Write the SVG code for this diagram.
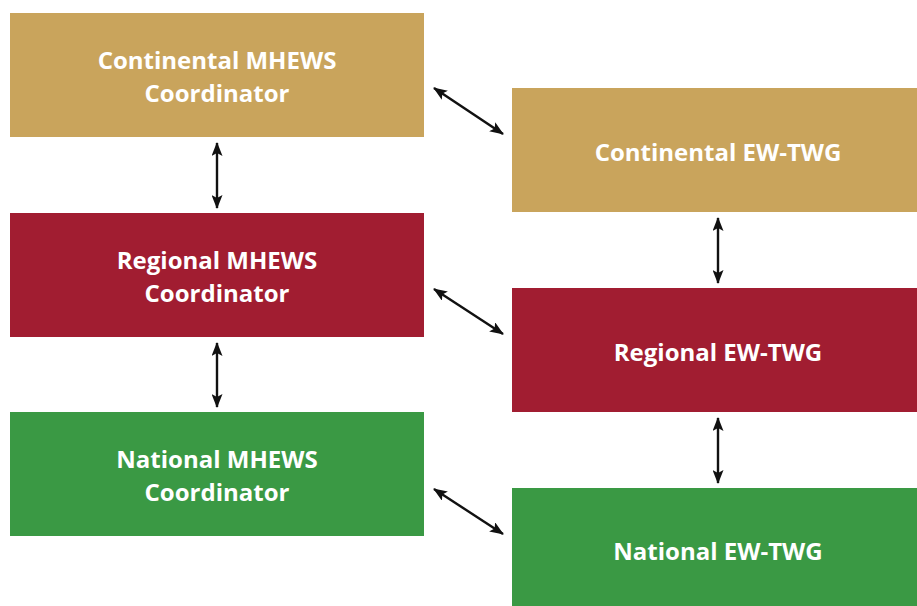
<svg xmlns="http://www.w3.org/2000/svg" width="917" height="606" viewBox="0 0 917 606">
  <style>
    .gold { fill: #C9A45C; }
    .red { fill: #A11D31; }
    .green { fill: #3A9944; }
    .lbl { fill: #FFFFFF; font-family: "Open Sans", "Liberation Sans", sans-serif; font-weight: bold; font-size: 24px; text-anchor: middle; }
    .link { stroke: #111111; stroke-width: 2.4; fill: none; marker-start: url(#head); marker-end: url(#head); }
  </style>
  <defs>
    <marker id="head" viewBox="0 0 14 11" refX="13" refY="5.5" markerWidth="14" markerHeight="11" orient="auto-start-reverse" markerUnits="userSpaceOnUse">
      <path d="M0,0 L14,5.5 L0,11 L3,5.5 Z" fill="#111111"/>
    </marker>
  </defs>
  <rect width="917" height="606" fill="#FFFFFF"/>

  <g id="continental-coordinator">
    <rect class="gold" x="10" y="13" width="414" height="124"/>
    <text class="lbl" x="217" y="69">Continental MHEWS</text>
    <text class="lbl" x="217" y="102">Coordinator</text>
  </g>
  <g id="regional-coordinator">
    <rect class="red" x="10" y="213" width="414" height="124"/>
    <text class="lbl" x="217" y="269">Regional MHEWS</text>
    <text class="lbl" x="217" y="302">Coordinator</text>
  </g>
  <g id="national-coordinator">
    <rect class="green" x="10" y="412" width="414" height="124"/>
    <text class="lbl" x="217" y="468">National MHEWS</text>
    <text class="lbl" x="217" y="501">Coordinator</text>
  </g>

  <g id="continental-twg">
    <rect class="gold" x="512" y="88" width="405" height="124"/>
    <text class="lbl" x="718" y="161">Continental EW-TWG</text>
  </g>
  <g id="regional-twg">
    <rect class="red" x="512" y="288" width="405" height="124"/>
    <text class="lbl" x="718" y="361">Regional EW-TWG</text>
  </g>
  <g id="national-twg">
    <rect class="green" x="512" y="488" width="405" height="118"/>
    <text class="lbl" x="718" y="560">National EW-TWG</text>
  </g>

  <g id="connectors">
    <line class="link" x1="217" y1="143" x2="217" y2="208"/>
    <line class="link" x1="217" y1="343" x2="217" y2="407"/>
    <line class="link" x1="718" y1="218" x2="718" y2="283"/>
    <line class="link" x1="718" y1="418" x2="718" y2="483"/>
    <line class="link" x1="434" y1="88" x2="503" y2="134"/>
    <line class="link" x1="434" y1="289" x2="503" y2="334"/>
    <line class="link" x1="434" y1="489" x2="503" y2="534"/>
  </g>
</svg>
